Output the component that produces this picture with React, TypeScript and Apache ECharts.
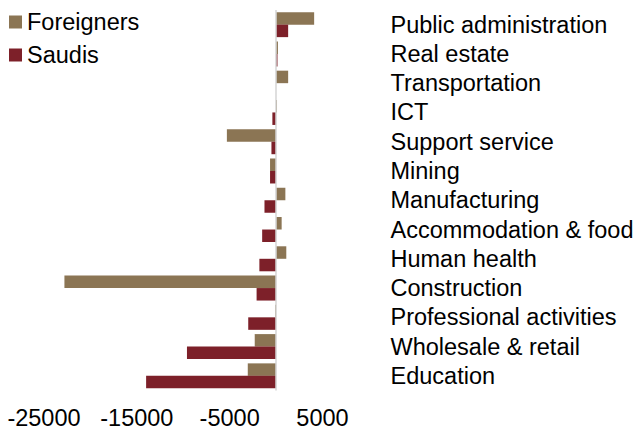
import React, { useEffect, useRef } from "react";
import * as echarts from "echarts";

const categories = [
  "Public administration",
  "Real estate",
  "Transportation",
  "ICT",
  "Support service",
  "Mining",
  "Manufacturing",
  "Accommodation & food",
  "Human health",
  "Construction",
  "Professional activities",
  "Wholesale & retail",
  "Education",
];

const foreigners = [4100, 200, 1300, 100, -5300, -650, 1000, 600, 1100, -22800, -100, -2300, -3050];
const saudis = [1300, 150, 0, -400, -500, -650, -1250, -1500, -1800, -2100, -3000, -9600, -14000];

const xMin = -25000;
const xMax = 5000;
const xStep = 5000;
const labelStep = 10000;

const FONT = "'Liberation Sans', Arial, sans-serif";
const FS = 23.5;

export default function App() {
  const ref = useRef<HTMLDivElement>(null);
  useEffect(() => {
    if (!ref.current) return;
    const chart = echarts.init(ref.current, undefined, { renderer: "svg" });
    chart.setOption({
      animation: false,
      backgroundColor: "#ffffff",
      textStyle: { fontFamily: FONT },
      legend: {
        orient: "vertical",
        left: 9,
        top: 10,
        padding: 0,
        itemWidth: 13,
        itemHeight: 13,
        itemGap: 9,
        icon: "rect",
        textStyle: { fontSize: FS, lineHeight: 22, color: "#000", fontFamily: FONT },
        data: ["Foreigners", "Saudis"],
      },
      grid: { left: 44, right: 316.5, top: 10, bottom: 39.5, containLabel: false },
      xAxis: {
        type: "value",
        min: xMin,
        max: xMax,
        interval: xStep,
        axisLine: { show: false },
        axisTick: { show: false },
        splitLine: { show: false },
        axisLabel: {
          fontSize: FS,
          color: "#000",
          fontFamily: FONT,
          margin: 15.5,
          showMinLabel: true,
          showMaxLabel: true,
          formatter: (v: number) => ((v - xMin) % labelStep === 0 ? String(v) : ""),
        },
      },
      yAxis: {
        type: "category",
        data: categories,
        inverse: true,
        position: "right",
        axisLine: { show: false, onZero: false },
        axisTick: { show: false },
        splitLine: { show: false },
        axisLabel: {
          interval: 0,
          fontSize: FS,
          color: "#000",
          fontFamily: FONT,
          align: "left",
          margin: 68,
        },
      },
      series: [
        {
          name: "Foreigners",
          type: "bar",
          data: foreigners,
          barGap: "0%",
          barCategoryGap: "14.6%",
          itemStyle: { color: "#8B7554" },
          markLine: {
            silent: true,
            symbol: "none",
            label: { show: false },
            lineStyle: { color: "#d4d4d4", width: 1.5, type: "solid" },
            data: [{ xAxis: 0 }],
          },
        },
        {
          name: "Saudis",
          type: "bar",
          data: saudis,
          barGap: "0%",
          barCategoryGap: "14.6%",
          itemStyle: { color: "#7D2029" },
        },
      ],
    });
    return () => chart.dispose();
  }, []);
  return <div ref={ref} style={{ width: 639, height: 430, position: "absolute", left: 0, top: 0 }} />;
}
